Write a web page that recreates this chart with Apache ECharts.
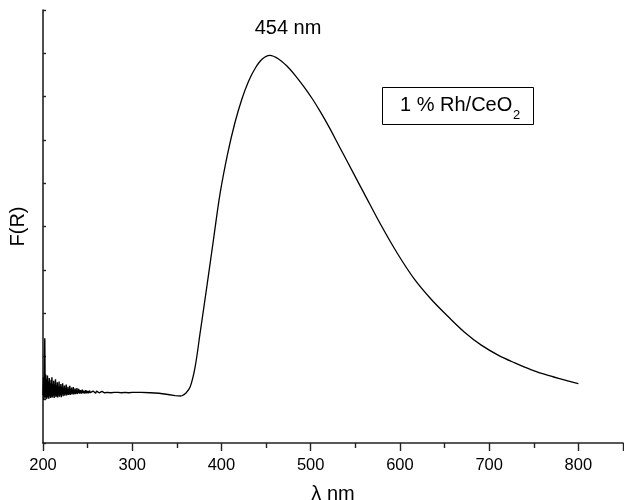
<!DOCTYPE html>
<html>
<head>
<meta charset="utf-8">
<script src="https://cdn.jsdelivr.net/npm/echarts@6/dist/echarts.min.js"></script>
<style>
  html, body { margin: 0; padding: 0; background: #fff; }
  #chart { width: 624px; height: 500px; }
</style>
</head>
<body>
<div id="chart"></div>
<script>
  // noisy start of the spectrum (200 - 355 nm)
  var noiseX = [200, 200.5, 201, 201.5, 202, 202.5, 203, 203.5, 204, 204.5, 205, 205.5, 206, 206.5, 207, 207.5, 208, 208.5, 209, 209.5,
    210, 210.5, 211, 211.5, 212, 212.5, 213, 213.5, 214, 214.5, 215, 215.5, 216, 216.5, 217, 217.5, 218, 218.5, 219, 219.5,
    220, 220.5, 221, 221.5, 222, 222.5, 223, 223.5, 224, 224.5, 225, 225.5, 226, 226.5, 227, 227.5, 228, 228.5, 229, 229.5,
    230, 230.5, 231, 231.5, 232, 232.5, 233, 233.5, 234, 234.5, 235, 235.5, 236, 236.5, 237, 237.5, 238, 238.5, 239, 239.5,
    240, 241, 242, 243, 244, 245, 246, 247, 248, 249, 250, 251, 252, 253, 254, 255, 256, 257, 258, 259,
    260, 261, 262, 263, 264, 265, 266, 267, 268, 269, 270, 272, 274, 276, 278, 280, 282, 284, 286, 288,
    290, 292, 294, 296, 298, 300, 305, 310, 320, 330, 340, 348, 355]
  var noiseY = [1.10, 1.52, 1.00, 1.70, 2.42, 1.05, 1.58, 1.01, 1.47, 1.03, 1.56, 1.06, 1.42, 1.02, 1.50, 1.08, 1.38, 1.04, 1.46, 1.07,
    1.52, 1.05, 1.36, 1.09, 1.44, 1.04, 1.35, 1.10, 1.47, 1.06, 1.33, 1.08, 1.40, 1.05, 1.31, 1.10, 1.42, 1.07, 1.30, 1.11,
    1.36, 1.06, 1.29, 1.12, 1.38, 1.08, 1.27, 1.12, 1.33, 1.09, 1.26, 1.13, 1.35, 1.10, 1.25, 1.12, 1.30, 1.11, 1.24, 1.13,
    1.32, 1.11, 1.24, 1.14, 1.28, 1.12, 1.23, 1.14, 1.29, 1.12, 1.22, 1.14, 1.26, 1.13, 1.22, 1.15, 1.27, 1.13, 1.21, 1.15,
    1.25, 1.14, 1.22, 1.14, 1.23, 1.15, 1.21, 1.14, 1.22, 1.15, 1.20, 1.15, 1.21, 1.16, 1.20, 1.15, 1.20, 1.16, 1.19, 1.15,
    1.20, 1.16, 1.19, 1.16, 1.20, 1.16, 1.19, 1.17, 1.19, 1.16, 1.19, 1.17, 1.19, 1.16, 1.19, 1.17, 1.19, 1.17, 1.18, 1.16,
    1.19, 1.17, 1.18, 1.16, 1.18, 1.17, 1.17, 1.17, 1.16, 1.15, 1.12, 1.095, 1.085]

  // absorption band (355 - 800 nm)
  var bandX = [355, 360, 365, 370.5, 376, 383.6, 391, 398.6, 407, 415, 423, 430.5, 438, 445.5, 454, 464, 473.6, 483,
    492.3, 501.8, 511.1, 520.5, 530, 541, 560, 578.6, 597.4, 616, 635, 654, 672.4, 691.2, 710, 728.7, 747.4, 766.2, 785, 800]
  var bandY = [1.085, 1.15, 1.30, 1.76, 2.53, 3.61, 4.69, 5.78, 6.69, 7.39, 7.95, 8.36, 8.66, 8.86, 8.95, 8.87, 8.70, 8.48,
    8.23, 7.95, 7.64, 7.30, 6.93, 6.50, 5.76, 5.04, 4.37, 3.79, 3.32, 2.92, 2.56, 2.26, 2.03, 1.85, 1.69, 1.56, 1.45, 1.37]

  var xTicks = [200, 300, 400, 500, 600, 700, 800]

  function pairs (xs, ys) {
    return xs.map(function (x, i) { return [x, ys[i]] })
  }

  var chart = echarts.init(document.getElementById('chart'))
  var font = 'Liberation Sans, Arial, sans-serif'
  var option = {
    animation: false,
    backgroundColor: '#fff',
    grid: { left: 43, right: 1, top: 10, bottom: 57, outerBoundsMode: 'none' },
    xAxis: {
      type: 'value',
      min: 200,
      max: 850,
      interval: 100,
      name: 'λ nm',
      nameLocation: 'middle',
      nameGap: 41,
      nameTextStyle: { color: '#000', fontSize: 20, fontFamily: font },
      axisLine: { lineStyle: { color: '#222', width: 1.6 } },
      axisTick: { length: 8, lineStyle: { color: '#222', width: 1.4 } },
      minorTick: { show: true, splitNumber: 2, length: 5, lineStyle: { color: '#222', width: 1.4 } },
      splitLine: { show: false },
      axisLabel: {
        color: '#000',
        fontSize: 16.5,
        fontFamily: font,
        margin: 14,
        formatter: function (v) { return xTicks.indexOf(v) >= 0 ? String(v) : '' }
      }
    },
    yAxis: {
      type: 'value',
      min: 0,
      max: 10,
      interval: 1,
      name: 'F(R)',
      nameLocation: 'middle',
      nameGap: 15,
      nameTextStyle: { color: '#000', fontSize: 20, fontFamily: font },
      axisLine: { show: true, lineStyle: { color: '#222', width: 1.6 } },
      axisTick: { show: true, inside: true, length: 3, lineStyle: { color: '#222', width: 1.4 } },
      axisLabel: { show: false },
      splitLine: { show: false }
    },
    series: [{
      type: 'line',
      data: pairs(noiseX, noiseY),
      showSymbol: false,
      lineStyle: { color: '#000', width: 1.4 }
    }, {
      type: 'line',
      data: pairs(bandX, bandY),
      showSymbol: false,
      smooth: 0.35,
      lineStyle: { color: '#000', width: 1.3 }
    }],
    graphic: [{
      type: 'text',
      x: 288,
      y: 28,
      style: { text: '454 nm', fontSize: 20, fontFamily: font, fill: '#000', align: 'center', verticalAlign: 'middle' }
    }, {
      type: 'rect',
      shape: { x: 382.5, y: 87.5, width: 151, height: 37 },
      style: { fill: '#fff', stroke: '#000', lineWidth: 1 }
    }, {
      type: 'text',
      x: 400,
      y: 105,
      style: { text: '1 % Rh/CeO', fontSize: 20, fontFamily: font, fill: '#000', align: 'left', verticalAlign: 'middle' }
    }, {
      type: 'text',
      x: 513,
      y: 115,
      style: { text: '2', fontSize: 13, fontFamily: font, fill: '#000', align: 'left', verticalAlign: 'middle' }
    }]
  }
  chart.setOption(option)
</script>
</body>
</html>
